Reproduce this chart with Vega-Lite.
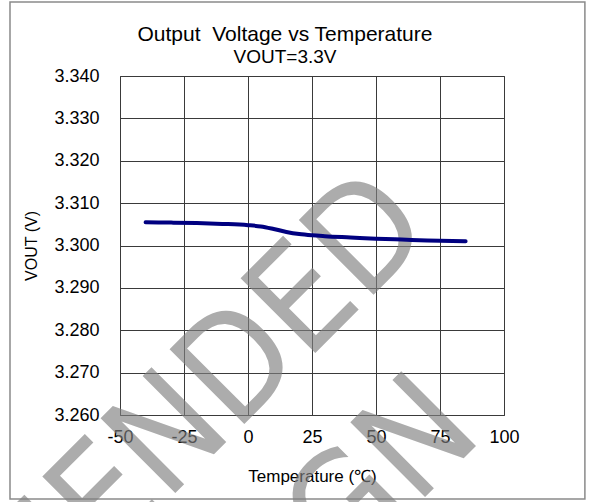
{
  "$schema": "https://vega.github.io/schema/vega-lite/v6.json",
  "width": 384,
  "height": 339,
  "autosize": {"type": "none"},
  "padding": {"left": 120, "top": 76, "right": 85, "bottom": 87},
  "background": "white",
  "config": {
    "view": {"stroke": "#3a3a3a", "strokeWidth": 1},
    "font": "Liberation Sans"
  },
  "title": {
    "text": "Output\u00a0 Voltage vs Temperature",
    "subtitle": "VOUT=3.3V",
    "font": "Liberation Sans",
    "subtitleFont": "Liberation Sans",
    "fontSize": 21,
    "subtitleFontSize": 19,
    "fontWeight": "normal",
    "color": "#000000",
    "subtitleColor": "#000000",
    "anchor": "middle",
    "dx": -27,
    "offset": -66,
    "subtitlePadding": 3
  },
  "layer": [
    {
      "data": {"values": [{"frame": 1}]},
      "mark": {"type": "rect", "fill": null, "stroke": "#8a8a8a", "strokeWidth": 1.5, "clip": false},
      "encoding": {
        "x": {"datum": -92.97, "type": "quantitative", "scale": {"domain": [-50, 100], "nice": false, "zero": false}},
        "x2": {"datum": 131.6},
        "y": {"datum": 3.35746, "type": "quantitative", "scale": {"domain": [3.26, 3.34], "nice": false, "zero": false}},
        "y2": {"datum": 3.24018}
      }
    },
    {
      "data": {"values": [{"line": "NOT RECOMMENDED"}]},
      "mark": {"type": "text", "angle": 315, "align": "right", "baseline": "alphabetic", "fontSize": 145, "font": "Liberation Sans Narrow, DejaVu Sans Condensed, Liberation Sans", "fill": "#808080", "opacity": 0.65, "clip": false},
      "encoding": {
        "x": {"datum": 73.3, "type": "quantitative", "scale": {"domain": [-50, 100], "nice": false, "zero": false}},
        "y": {"datum": 3.30302, "type": "quantitative", "scale": {"domain": [3.26, 3.34], "nice": false, "zero": false}},
        "text": {"field": "line"}
      }
    },
    {
      "data": {"values": [{"line": "FOR NEW DESIGN"}]},
      "mark": {"type": "text", "angle": 315, "align": "right", "baseline": "alphabetic", "fontSize": 145, "font": "Liberation Sans Narrow, DejaVu Sans Condensed, Liberation Sans", "fill": "#808080", "opacity": 0.65, "clip": false},
      "encoding": {
        "x": {"datum": 92.6, "type": "quantitative", "scale": {"domain": [-50, 100], "nice": false, "zero": false}},
        "y": {"datum": 3.25481, "type": "quantitative", "scale": {"domain": [3.26, 3.34], "nice": false, "zero": false}},
        "text": {"field": "line"}
      }
    },
    {
      "data": {
        "values": [
          {"T": -40, "V": 3.3055},
          {"T": -30, "V": 3.3054},
          {"T": -20, "V": 3.3053},
          {"T": -10, "V": 3.3051},
          {"T": 0, "V": 3.3048},
          {"T": 5, "V": 3.3045},
          {"T": 10, "V": 3.3039},
          {"T": 15, "V": 3.3032},
          {"T": 20, "V": 3.3027},
          {"T": 25, "V": 3.3024},
          {"T": 30, "V": 3.3022},
          {"T": 40, "V": 3.3019},
          {"T": 50, "V": 3.3016},
          {"T": 60, "V": 3.3014},
          {"T": 70, "V": 3.3012},
          {"T": 85, "V": 3.3010}
        ]
      },
      "mark": {"type": "line", "color": "#000080", "strokeWidth": 4, "strokeCap": "round", "interpolate": "monotone"},
      "encoding": {
        "x": {
          "field": "T", "type": "quantitative",
          "scale": {"domain": [-50, 100], "nice": false, "zero": false},
          "axis": {
            "values": [-50, -25, 0, 25, 50, 75, 100],
            "labelExpr": "replace(datum.label, '−', '-')",
            "title": "Temperature (℃)",
            "titleFont": "Liberation Sans",
            "titleFontSize": 17,
            "titleFontWeight": "normal",
            "titleColor": "#000000",
            "titlePadding": 22,
            "labelFont": "Liberation Sans",
            "labelFontSize": 18,
            "labelColor": "#000000",
            "labelPadding": 13,
            "ticks": false,
            "domain": false,
            "grid": true,
            "gridColor": "#3a3a3a",
            "gridOpacity": 1,
            "gridWidth": 1,
            "labelFlush": false
          }
        },
        "y": {
          "field": "V", "type": "quantitative",
          "scale": {"domain": [3.26, 3.34], "nice": false, "zero": false},
          "axis": {
            "values": [3.26, 3.27, 3.28, 3.29, 3.30, 3.31, 3.32, 3.33, 3.34],
            "format": ".3f",
            "title": "VOUT (V)",
            "titleFont": "Liberation Sans",
            "titleFontSize": 16,
            "titleFontWeight": "normal",
            "titleColor": "#000000",
            "titlePadding": 14,
            "labelFont": "Liberation Sans",
            "labelFontSize": 18,
            "labelColor": "#000000",
            "labelPadding": 21,
            "ticks": false,
            "domain": false,
            "grid": true,
            "gridColor": "#3a3a3a",
            "gridOpacity": 1,
            "gridWidth": 1,
            "labelFlush": false
          }
        }
      }
    }
  ]
}
